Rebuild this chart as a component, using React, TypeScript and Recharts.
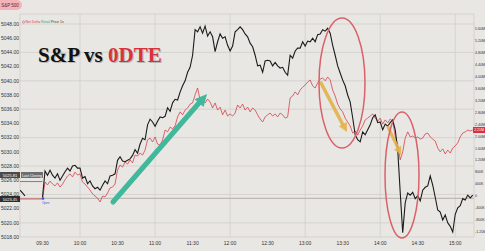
import React from 'react';
import { LineChart, Line, XAxis, YAxis, CartesianGrid, ReferenceLine } from 'recharts';

// S&P 500 price, 2-minute samples from 09:12 (pre-market) to 15:14
const spx: (number | null)[] = [
  5024.6, 5024.2, 5023.8, null, null, null, null, null, null,
  5023.6, 5027.3, 5026.7, 5027.4, 5026.7, 5026.3, 5026.9, 5026.0, 5026.6, 5027.2,
  5027.7, 5027.3, 5028.0, 5028.1, 5027.7, 5027.7, 5026.3, 5026.5, 5025.5, 5025.9,
  5025.2, 5024.8, 5025.0, 5024.6, 5025.3, 5025.9, 5025.5, 5026.6, 5026.7, 5026.9,
  5028.8, 5029.3, 5028.7, 5028.6, 5028.8, 5029.0, 5029.5, 5030.3, 5029.8, 5031.1,
  5031.9, 5031.7, 5033.8, 5034.6, 5034.2, 5033.6, 5034.3, 5034.9, 5034.8, 5035.0,
  5036.2, 5035.7, 5036.9, 5037.4, 5037.3, 5038.4, 5039.3, 5040.0, 5041.2, 5041.9,
  5043.6, 5047.2, 5046.9, 5047.6, 5046.7, 5047.7, 5046.3, 5046.9, 5046.2, 5044.1,
  5045.5, 5046.6, 5046.0, 5046.2, 5045.0, 5044.2, 5044.9, 5046.9, 5047.2, 5047.6,
  5047.2, 5046.6, 5046.2, 5045.3, 5044.8, 5043.6, 5042.1, 5042.2, 5041.2, 5042.8,
  5042.9, 5042.8, 5042.1, 5042.6, 5042.1, 5041.8, 5041.9, 5041.2, 5040.8, 5043.6,
  5043.2, 5044.2, 5044.6, 5044.6, 5045.5, 5044.9, 5045.6, 5045.5, 5046.0, 5045.5,
  5046.5, 5046.6, 5047.2, 5047.0, 5047.4, 5046.7, 5045.0, 5043.6, 5042.1, 5041.1,
  5040.1, 5039.3, 5038.0, 5037.0, 5034.8, 5032.4, 5031.7, 5031.4, 5032.8, 5032.4,
  5033.1, 5033.8, 5034.8, 5035.2, 5034.1, 5034.2, 5033.1, 5033.9, 5033.6, 5034.1,
  5034.5, 5033.1, 5030.3, 5024.3, 5018.6, 5022.8, 5024.2, 5023.9, 5024.3, 5023.4,
  5023.8, 5023.1, 5024.6, 5025.0, 5025.2, 5026.6, 5025.3, 5023.6, 5021.8, 5021.5,
  5020.4, 5021.1, 5020.0, 5019.5, 5018.7, 5021.2, 5022.1, 5022.4, 5023.4, 5023.2,
  5023.9, 5023.5, 5023.9,
];

// 0DTE net delta, millions, same samples
const netDelta: number[] = [
  -0.10, -0.10, -0.10, -0.10, -0.10, -0.10, -0.10, -0.10, -0.10,
  -0.10, 0.47, 0.37, 0.50, 0.40, 0.34, 0.44, 0.30, 0.40, 0.54,
  0.67, 0.74, 0.64, 0.80, 0.70, 0.74, 0.47, 0.40, 0.30, 0.20,
  0.07, 0.00, -0.07, -0.20, 0.00, -0.03, 0.10, 0.27, 0.30, 0.40,
  0.87, 1.04, 0.97, 1.14, 1.07, 1.21, 1.11, 1.37, 1.34, 1.44,
  1.37, 1.54, 1.88, 1.94, 1.81, 1.98, 1.74, 1.71, 1.88, 2.21,
  2.15, 2.31, 2.25, 2.35, 2.65, 2.82, 2.72, 2.88, 2.95, 3.08,
  3.12, 3.39, 3.62, 3.22, 3.32, 3.12, 3.25, 3.15, 2.95, 3.12,
  2.88, 2.98, 2.72, 2.88, 2.68, 2.75, 2.68, 2.78, 3.05, 2.95,
  3.08, 2.88, 2.98, 2.82, 2.95, 2.88, 2.72, 2.58, 2.48, 2.65,
  2.72, 2.78, 2.68, 2.75, 2.65, 2.78, 2.72, 2.61, 2.65, 3.29,
  3.35, 3.49, 3.39, 3.55, 3.65, 3.72, 3.82, 3.89, 3.69, 3.62,
  3.79, 3.92, 3.96, 3.86, 3.99, 3.89, 3.55, 3.35, 3.08, 2.92,
  2.82, 2.61, 2.48, 2.35, 2.11, 2.18, 2.04, 2.21, 2.35, 2.55,
  2.61, 2.68, 2.75, 2.61, 2.51, 2.61, 2.41, 2.55, 2.45, 2.58,
  2.51, 2.01, 1.71, 1.21, 1.48, 1.94, 2.15, 1.98, 2.01, 1.94,
  1.98, 1.91, 1.94, 2.08, 2.11, 1.98, 1.91, 1.84, 1.61, 1.48,
  1.58, 1.41, 1.54, 1.44, 1.61, 1.68, 1.78, 1.98, 2.11, 2.15,
  2.21, 2.18, 2.21,
];

// minutes after 09:30, one per sample
const minutes = spx.map((_, i) => -18 + i * 2);

const timeTicks = [0, 30, 60, 90, 120, 150, 180, 210, 240, 270, 300, 330];
const timeLabels = ['09:30', '10:00', '10:30', '11:00', '11:30', '12:00', '12:30', '13:00', '13:30', '14:00', '14:30', '15:00'];
const priceTicks = [5018, 5020, 5022, 5024, 5026, 5028, 5030, 5032, 5034, 5036, 5038, 5040, 5042, 5044, 5046, 5048];
const deltaTicks = [-1.2, -0.8, -0.4, 0, 0.4, 0.8, 1.2, 1.6, 2.0, 2.4, 2.8, 3.2, 3.6, 4.0, 4.4, 4.8, 5.2, 5.6];

const lastClose = 5025.81;
const openPrice = 5023.45;

const rows = minutes.map((t, i) => ({ t, spx: spx[i], delta: netDelta[i] }));

const fmtDelta = (v: number) => {
  if (v === 0) return '0';
  if (Math.abs(v) < 1) return `${Math.round(v * 1000)}K`;
  return `${v.toFixed(2)}M`;
};

const tickStyle = { fontSize: 5, fill: '#333' };

const App: React.FC = () => {
  return (
    <div style={{ position: 'fixed', left: 0, top: 0, width: 485, height: 251, fontFamily: '"Liberation Sans", Arial, sans-serif' }}>
      <LineChart width={485} height={251} data={rows} margin={{ top: 14, right: 0, left: 0, bottom: 0 }} style={{ background: '#e9e7e3' }}>
        <CartesianGrid yAxisId="price" stroke="#d2cfca" strokeWidth={0.8} />
        <XAxis
          dataKey="t"
          type="number"
          domain={[-18, 345]}
          allowDataOverflow
          ticks={timeTicks}
          tickFormatter={(v) => timeLabels[timeTicks.indexOf(v)] ?? ''}
          height={14}
          axisLine={false}
          tickLine={false}
          tickSize={0}
          tickMargin={4}
          tick={tickStyle}
        />
        <YAxis
          yAxisId="price"
          orientation="left"
          width={20}
          domain={[5018, 5049.41]}
          allowDataOverflow
          ticks={priceTicks}
          tickFormatter={(v) => v.toFixed(2)}
          axisLine={false}
          tickLine={false}
          tickSize={0}
          tickMargin={1}
          tick={tickStyle}
        />
        <YAxis
          yAxisId="delta"
          orientation="right"
          width={11}
          domain={[-1.374, 6.1]}
          allowDataOverflow
          ticks={deltaTicks}
          tickFormatter={fmtDelta}
          axisLine={false}
          tickLine={false}
          tickSize={0}
          tickMargin={1}
          tick={{ fontSize: 3.6, fill: '#333' }}
        />
        <ReferenceLine yAxisId="price" y={openPrice} stroke="#aca8a2" strokeWidth={0.9} />
        <ReferenceLine
          yAxisId="price"
          segment={[{ x: -18, y: lastClose }, { x: 0, y: lastClose }]}
          stroke="#666"
          strokeWidth={0.8}
        />
        <Line yAxisId="delta" dataKey="delta" stroke="#d6414c" strokeWidth={0.8} dot={false} isAnimationActive={false} />
        <Line yAxisId="price" dataKey="spx" stroke="#1b1b1b" strokeWidth={1.1} dot={false} connectNulls={false} isAnimationActive={false} />
      </LineChart>

      {/* annotations and labels drawn over the chart */}
      <svg width={485} height={251} style={{ position: 'absolute', left: 0, top: 0, pointerEvents: 'none' }}>
        <rect x={-4} y={0} width={26} height={10} rx={5} fill="#f2b4b9" />
        <text x={10} y={6.5} fontSize={4.5} textAnchor="middle" fill="#6d2228">S&amp;P 500</text>

        <circle cx={23.5} cy={22} r={1.1} fill="none" stroke="#d6414c" strokeWidth={0.5} />
        <text x={25.5} y={23.3} fontSize={3.5} fill="#d6414c">Net Delta</text>
        <text x={41} y={23.3} fontSize={3.5} fill="#2a9d8f">Retail</text>
        <text x={51} y={23.3} fontSize={3.5} fill="#333">Price</text>
        <text x={60} y={23.3} fontSize={3.5} fill="#333">1s</text>

        <g fontFamily='"Liberation Serif", "Times New Roman", serif' fontWeight="bold" fontSize={21}>
          <text x={39} y={63} fill="#9a9894" opacity={0.6}>S&amp;P vs <tspan>0DTE</tspan></text>
          <text x={38} y={62} fill="#111">S&amp;P vs <tspan fill="#d7333d">0DTE</tspan></text>
        </g>

        <rect x={0} y={172} width={20} height={6} fill="#4a4a4a" />
        <text x={10} y={176.6} fontSize={4} textAnchor="middle" fill="#fff">5025.81</text>
        <rect x={21} y={172} width={22} height={6} fill="#6d6d6d" />
        <text x={32} y={176.5} fontSize={3.6} textAnchor="middle" fill="#fff">Last Closing</text>
        <rect x={0} y={196} width={20} height={6} fill="#2d2d2d" />
        <text x={10} y={200.6} fontSize={4} textAnchor="middle" fill="#fff">5023.45</text>
        <circle cx={43} cy={198.5} r={1.3} fill="#3355dd" />
        <text x={42} y={204} fontSize={3} fill="#3355dd">Open</text>

        <rect x={473} y={127} width={12} height={6} fill="#d6303c" />
        <text x={479} y={131.3} fontSize={3.5} textAnchor="middle" fill="#fff">2.21M</text>

        <line x1={113} y1={202} x2={199} y2={103} stroke="#41b79b" strokeWidth={5} strokeLinecap="round" />
        <polygon points="207,94 203.6,107 194.6,99.2" fill="#41b79b" />

        <line x1={321} y1={83} x2={343} y2={125} stroke="#e2b24a" strokeWidth={3.5} strokeLinecap="round" opacity={0.9} />
        <polygon points="347,132 346.8,122 338.8,126.2" fill="#e2b24a" opacity={0.9} />
        <line x1={388} y1={127} x2={398} y2={148} stroke="#e2b24a" strokeWidth={3} strokeLinecap="round" opacity={0.9} />
        <polygon points="401,155 401.2,146.1 394,149.5" fill="#e2b24a" opacity={0.9} />

        <ellipse cx={342} cy={83} rx={23} ry={65} fill="none" stroke="#d9626a" strokeWidth={1.5} />
        <ellipse cx={402} cy={175} rx={17} ry={63} fill="none" stroke="#d9626a" strokeWidth={1.5} />
      </svg>
    </div>
  );
};

export default App;
